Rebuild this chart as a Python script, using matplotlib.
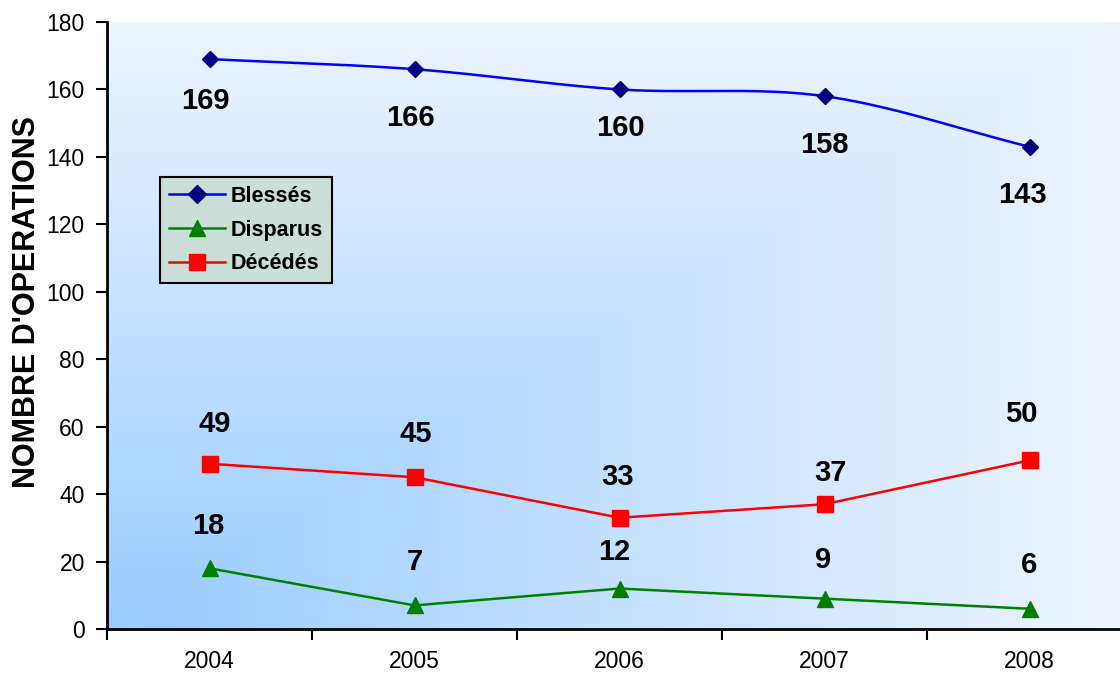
import numpy as np
import matplotlib
matplotlib.use("Agg")
import matplotlib.pyplot as plt
from matplotlib.colors import to_rgb
from matplotlib.lines import Line2D

plt.rcParams['font.family'] = ['Liberation Sans', 'DejaVu Sans']

years = ['2004', '2005', '2006', '2007', '2008']
blesses = [169, 166, 160, 158, 143]
disparus = [18, 7, 12, 9, 6]
decedes = [49, 45, 33, 37, 50]
series_names = ['Blessés', 'Disparus', 'Décédés']

# label offsets in pixels (dx, dy), dy positive = upwards
off_blesses = [(-4, -42), (-4, -49), (1, -39), (0, -49), (-7, -48)]
off_disparus = [(-1, 42), (0, 43), (-5, 37), (-1, 39), (-1, 44)]
off_decedes = [(5, 40), (1, 43), (-2, 41), (6, 31), (-8, 46)]


def catmull_rom(x, y, n=40):
    x = np.asarray(x, float)
    y = np.asarray(y, float)
    px = np.concatenate([[2 * x[0] - x[1]], x, [2 * x[-1] - x[-2]]])
    py = np.concatenate([[2 * y[0] - y[1]], y, [2 * y[-1] - y[-2]]])
    xs, ys = [], []
    t = np.linspace(0, 1, n)
    for i in range(1, len(px) - 2):
        p0, p1, p2, p3 = (np.array([px[j], py[j]]) for j in range(i - 1, i + 3))
        m1 = (p2 - p0) / 2
        m2 = (p3 - p1) / 2
        h00 = 2 * t**3 - 3 * t**2 + 1
        h10 = t**3 - 2 * t**2 + t
        h01 = -2 * t**3 + 3 * t**2
        h11 = t**3 - t**2
        pts = (np.outer(h00, p1) + np.outer(h10, m1) + np.outer(h01, p2) + np.outer(h11, m2))
        xs.extend(pts[:, 0])
        ys.extend(pts[:, 1])
    return np.array(xs), np.array(ys)


W, H, DPI = 1120, 673, 100
fig = plt.figure(figsize=(W / DPI, H / DPI), dpi=DPI)
ax = fig.add_axes([107 / W, 44 / H, 1025 / W, 607 / H])

# corner gradient background: dark at lower left, pale toward top and right
light = np.array(to_rgb('#EEF5FF'))
dark = np.array(to_rgb('#99CCFF'))
gx, gy = np.meshgrid(np.linspace(0, 1, 600), np.linspace(0, 1, 400))
u = np.clip(1 - gx * 1025 / 1013, 0, 1)
v = 1 - gy
t = np.minimum(u, v)
img = light[None, None, :] * (1 - t[..., None]) + dark[None, None, :] * t[..., None]
ax.imshow(img, extent=(0, 1, 0, 1), transform=ax.transAxes, origin='lower',
          aspect='auto', zorder=0, interpolation='bilinear')

x = np.arange(len(years))

sx, sy = catmull_rom(x, blesses)
ax.plot(sx, sy, color='#0000FF', lw=1.8, zorder=3)
ax.plot(x, blesses, ls='none', marker='D', ms=8, color='#000080', zorder=4)
ax.plot(x, disparus, color='#008000', lw=1.8, marker='^', ms=11.5, zorder=3)
ax.plot(x, decedes, color='#FF0000', lw=1.8, marker='s', ms=11.5, zorder=3)

for vals, offs in ((blesses, off_blesses), (disparus, off_disparus), (decedes, off_decedes)):
    for xi, val, (dx, dy) in zip(x, vals, offs):
        ax.annotate(str(val), (xi, val), xytext=(dx * 0.72, dy * 0.72),
                    textcoords='offset points', ha='center', va='center',
                    fontsize=21, fontweight='bold', color='black', zorder=5)

ax.set_xlim(-0.5, 4.5)
ax.set_ylim(0, 180)
ax.set_yticks(np.arange(0, 181, 20))
ax.tick_params(axis='y', direction='out', length=8, width=1.5, labelsize=16.5, pad=8)

ax.set_xticks(np.arange(-0.5, 4.6, 1.0))
ax.set_xticklabels([])
ax.set_xticks(x, minor=True)
ax.set_xticklabels(years, minor=True)
ax.tick_params(axis='x', which='major', direction='out', length=8, width=1.5)
ax.tick_params(axis='x', which='minor', length=0, labelsize=16.5, pad=15)

for s in ('top', 'right'):
    ax.spines[s].set_visible(False)
for s in ('left', 'bottom'):
    ax.spines[s].set_linewidth(2)

ax.set_ylabel("NOMBRE D'OPERATIONS", fontsize=22, fontweight='bold')
ax.yaxis.set_label_coords((42 - 107) / 1025, (629 - 302) / 607)

handles = [
    Line2D([], [], color='#0000FF', lw=1.8, marker='D', ms=9, markerfacecolor='#000080',
           markeredgecolor='#000080'),
    Line2D([], [], color='#008000', lw=1.8, marker='^', ms=12),
    Line2D([], [], color='#FF0000', lw=1.8, marker='s', ms=11.5),
]
leg = ax.legend(handles, series_names, loc='upper left',
                bbox_to_anchor=((160 - 107) / 1025, (629 - 177) / 607),
                borderaxespad=0, prop={'size': 15.5, 'weight': 'bold'},
                frameon=True, fancybox=False, framealpha=1, edgecolor='black',
                facecolor='#CADFD7', handlelength=2.6, handletextpad=0.3,
                labelspacing=0.6, borderpad=0.4)
leg.get_frame().set_linewidth(1.5)
leg.set_zorder(6)

fig.savefig('out.png', dpi=DPI)
